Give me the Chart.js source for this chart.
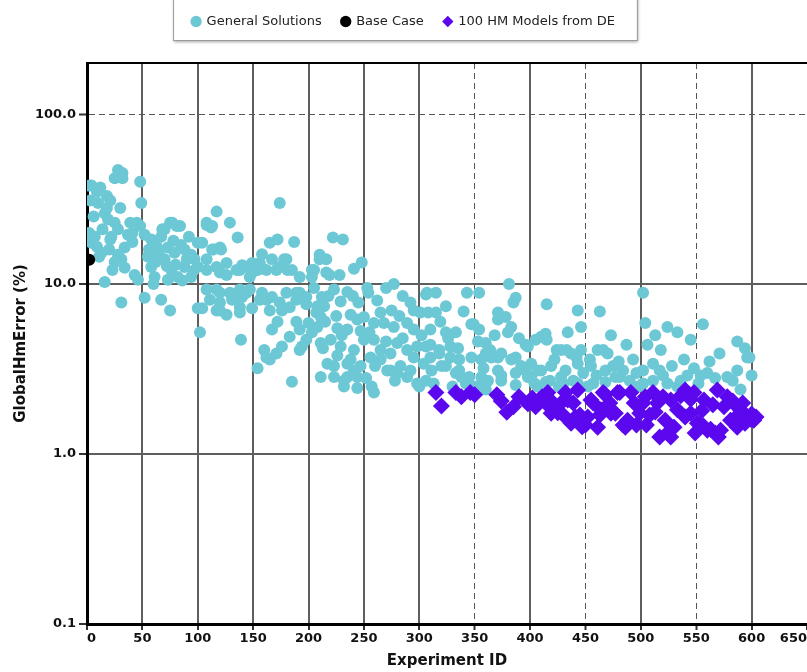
<!DOCTYPE html>
<html>
<head>
<meta charset="utf-8">
<title>GlobalHmError by experiment</title>
<script src="https://cdn.jsdelivr.net/npm/chart.js@4.4.0/dist/chart.umd.min.js"></script>
<style>
  html, body { margin: 0; padding: 0; background: #fff; }
</style>
</head>
<body>
<canvas id="hmErrorChart" width="807" height="672"></canvas>
<script>
// [experiment id, GlobalHmError %]
const generalSolutions = [
  [2, 38], [2, 20], [3, 31], [4, 17.5], [4, 38], [5, 19], [6, 25], [7, 19], [9, 16.6], [9, 35],
  [10, 30], [11, 14.5], [12, 37], [13, 15.3], [14, 21], [16, 10.3], [16, 26], [18, 33], [18, 28], [19, 24],
  [20, 16], [21, 31], [21, 18.3], [22, 19], [23, 12.1], [25, 42], [25, 23], [25, 13.5], [28, 47], [28, 21],
  [28, 14.9], [30, 28], [31, 14], [31, 7.8], [32, 45], [32, 42], [34, 16.4], [34, 12.5], [37, 19.5], [39, 23],
  [41, 20], [41, 17.7], [43, 11.3], [45, 23], [46, 10.6], [48, 40], [48, 22], [49, 30],
  [52, 19.5], [52, 8.3], [55, 14.5], [56, 16], [58, 18.3], [58, 12.6], [60, 10], [61, 11], [62, 13.5], [63, 16.6],
  [65, 15], [67, 19], [67, 8.1], [68, 21], [70, 14], [70, 21], [72, 12.8], [73, 16.4], [73, 10.6], [75, 23],
  [75, 7], [76, 12.1], [77, 23], [78, 18], [79, 15.3], [80, 13], [81, 22], [82, 11], [84, 22], [85, 17],
  [86, 10.5], [88, 16], [88, 12.6], [90, 14], [92, 19], [94, 14.9], [94, 11], [96, 12], [97, 14], [100, 17.5],
  [100, 12.6], [100, 7.2],
  [102, 5.2], [104, 17.5], [104, 7.2], [108, 23], [108, 22.3], [108, 14], [108, 9.3], [108, 12.1], [111, 8.1], [112, 21.5],
  [113, 16], [113, 22], [114, 16], [117, 26.7], [117, 12.6], [117, 9.3], [117, 7], [120, 16.4], [120, 11.7], [120, 8.9],
  [120, 7.8], [120, 7], [121, 16], [126, 13.3], [126, 11.3], [126, 6.6], [129, 23], [129, 8.9], [131, 8.4], [131, 8.1],
  [135, 12.1], [136, 18.8], [138, 12.1], [138, 9.3], [138, 7.3], [138, 6.8], [139, 4.7], [140, 12.9], [140, 8.4], [144, 12.6],
  [144, 8.9], [147, 11], [147, 9.3], [149, 11.7], [149, 13.3], [149, 7.2],
  [154, 12.1], [154, 3.2], [156, 13.3], [156, 8.1], [158, 15], [158, 8.9], [160, 4.1], [162, 12.1], [162, 3.7], [162, 8.1],
  [165, 17.5], [165, 7], [165, 3.6], [167, 14], [167, 8.4], [167, 5.4], [171, 12.1], [171, 3.9], [172, 18.3], [172, 6],
  [174, 30], [174, 12.6], [174, 7.8], [176, 4.3], [176, 7], [178, 14], [180, 14], [180, 8.9], [181, 12.1], [183, 4.9],
  [183, 7.3], [185, 12.1], [185, 2.66], [187, 17.7], [189, 8.1], [189, 8.9], [189, 6], [192, 11], [192, 5.4], [192, 8.9],
  [192, 4.1], [194, 4.3], [198, 8.4], [198, 7.6], [198, 4.7],
  [200, 5.9], [203, 11], [203, 5.2], [203, 12.1], [205, 12.1], [205, 9.5], [207, 6.8], [208, 7.4], [208, 5.6], [210, 14.9],
  [210, 14], [211, 6.4], [211, 4.5], [211, 2.84], [212, 8.4], [213, 4.2], [214, 7.4], [215, 6], [216, 14], [216, 11.7],
  [217, 3.4], [218, 8.5], [219, 11.3], [220, 4.7], [222, 18.8], [223, 9.3], [223, 3.3], [223, 2.84], [225, 6.5], [226, 5.5],
  [226, 3.8], [228, 11.3], [229, 7.9], [229, 4.3], [230, 5], [231, 18.3], [232, 2.5], [232, 2.7], [235, 9], [235, 5.4],
  [235, 3.4], [235, 2.84], [238, 6.6], [238, 3.6], [240, 8.5], [241, 12.3], [241, 4.1], [241, 3.1], [244, 6.2], [244, 2.84],
  [244, 2.45], [245, 7.8], [247, 5.3], [247, 3.3], [248, 13.4],
  [250, 6.4], [250, 4.7], [252, 2.8], [253, 9.5], [254, 8.9], [255, 5.2], [256, 3.7], [257, 2.5], [259, 5.9], [259, 4.7],
  [259, 2.3], [260, 3.3], [262, 8], [265, 4.1], [265, 3.6], [265, 6.8], [268, 5.9], [270, 9.5], [270, 4.6], [271, 3.1],
  [274, 3.9], [274, 3.1], [275, 7], [277, 10], [277, 5.6], [278, 2.7], [280, 4.5], [280, 3], [282, 6.5], [283, 3.3],
  [285, 8.5], [285, 4.8], [289, 5.9], [289, 4.1], [289, 2.84], [292, 7.8], [292, 3.1], [295, 7], [295, 5.4], [295, 3.7],
  [298, 4.3], [298, 2.6],
  [300, 2.5], [301, 6.8], [302, 5], [304, 3.4], [306, 8.7], [306, 4.3], [306, 2.7], [307, 8.9], [308, 6.8], [310, 5.4],
  [310, 3.7], [310, 4.4], [311, 3.1], [313, 2.6], [315, 8.9], [315, 6.8], [318, 4.1], [318, 3.9], [319, 6], [320, 3.3],
  [324, 7.4], [324, 5.2], [324, 3.3], [326, 4.8], [328, 4.3], [328, 3.7], [330, 2.5], [333, 5.2], [333, 3], [335, 4.2],
  [336, 3.1], [336, 3.6], [338, 2.84], [340, 6.9], [342, 2.6], [343, 8.9], [344, 2.7], [345, 2.84], [347, 5.8], [347, 3.7],
  [349, 5.8],
  [351, 2.5], [353, 4.6], [354, 8.9], [354, 5.4], [356, 3.6], [356, 2.84], [358, 3.2], [360, 4.5], [360, 3.9], [360, 2.6],
  [360, 2.4], [362, 2.7], [364, 4.1], [365, 3.7], [368, 5], [371, 6.8], [371, 6.2], [371, 3.7], [371, 3.1], [374, 3.9],
  [374, 2.9], [374, 2.7], [378, 6.4], [380, 5.2], [381, 10], [383, 5.6], [383, 3.6], [385, 7.8], [387, 8.3], [387, 3.7],
  [387, 3], [387, 2.55], [390, 4.8], [392, 3.3], [396, 4.4], [396, 3.1], [398, 4.3], [398, 2.84],
  [401, 3.4], [401, 2.84], [404, 2.6], [405, 4.7], [407, 3.1], [407, 2.5], [410, 4.9], [410, 3.1], [414, 5.1], [414, 2.65],
  [415, 7.6], [415, 4.7], [418, 2.7], [419, 3.3], [422, 3.6], [424, 4.1], [426, 2.5], [428, 4.1], [428, 2.84], [430, 2.6],
  [432, 3.1], [433, 4.1], [434, 5.2], [437, 3.9], [439, 2.7], [442, 3.7], [443, 7], [443, 3.4], [443, 2.6], [446, 5.6],
  [446, 4.1], [448, 3],
  [452, 2.5], [454, 3.6], [455, 3.3], [457, 2.6], [460, 2.9], [461, 4.1], [463, 6.9], [466, 4.1], [468, 3.1], [468, 2.65],
  [470, 3.9], [473, 5], [475, 3.3], [477, 2.84], [480, 3.5], [481, 2.84], [484, 3.1], [487, 4.4], [490, 2.7], [493, 3.6],
  [496, 3], [498, 2.5],
  [502, 8.9], [502, 3.1], [502, 2.6], [504, 5.9], [506, 4.4], [511, 3.4], [511, 2.7], [513, 5], [517, 3.1], [518, 4.1],
  [520, 2.9], [524, 5.6], [524, 2.6], [528, 3.3], [533, 5.2], [533, 2.5], [536, 2.7], [539, 3.6], [542, 2.9], [545, 4.7],
  [548, 3.2],
  [552, 2.6], [554, 2.9], [556, 5.8], [560, 3], [562, 3.5], [567, 2.8], [571, 3.9], [578, 2.84], [583, 2.7], [587, 4.6],
  [587, 3.1], [590, 2.4], [594, 4.2], [596, 3.7], [598, 3.7], [600, 2.9]
];

const baseCase = [[2, 13.9]];

const deModels = [
  [315, 2.3], [320, 1.92], [333, 2.3], [338, 2.17], [346, 2.3], [350, 2.23],
  [370, 2.23], [374, 2.05], [379, 1.76], [385, 1.9], [390, 2.17], [398, 1.98], [402, 2.14], [405, 1.9], [408, 2.08], [411, 2.17],
  [414, 2], [416, 2.3], [419, 1.74], [421, 2], [425, 1.75], [428, 2], [430, 1.7], [432, 2.3], [434, 2.08], [437, 1.52],
  [439, 2], [441, 1.65], [443, 2.38], [445, 1.7], [447, 1.45], [450, 1.48],
  [452, 1.65], [455, 2.08], [457, 2], [461, 1.44], [463, 1.7], [464, 1.82], [466, 2.3], [468, 2.23], [472, 2], [473, 1.74],
  [477, 1.74], [479, 2.3], [481, 2.3], [484, 1.48], [486, 1.44], [488, 1.58], [491, 2.3], [494, 2], [496, 1.48], [499, 1.74],
  [502, 2], [504, 2.17], [505, 1.48], [508, 1.7], [511, 2.3], [513, 1.77], [515, 2], [517, 1.26], [520, 2.17], [522, 1.58],
  [524, 1.33], [527, 2.08], [527, 1.26], [530, 1.44], [533, 1.82], [536, 2.2], [540, 2.38], [540, 1.65], [545, 1.74], [545, 2.1],
  [548, 2.3], [549, 1.33], [551, 1.52], [554, 1.52], [555, 1.8], [557, 2.08], [560, 1.38], [563, 1.4], [565, 1.95], [567, 1.33],
  [569, 2.38], [570, 1.26], [572, 1.38], [575, 1.9], [578, 2.17], [581, 1.58], [583, 2.05], [584, 1.6], [587, 1.9], [587, 1.44],
  [590, 1.82], [592, 2], [594, 1.52], [596, 1.65], [599, 1.6], [600, 1.72], [602, 1.58], [604, 1.65]
];

const xTicks = [0, 50, 100, 150, 200, 250, 300, 350, 400, 450, 500, 550, 600, 650];
const yTicks = [0.1, 1, 10, 100];
const dashedX = [350, 450, 550];
const dashedY = [100];

const FONT = 'DejaVu Sans';
const toPoints = (rows) => rows.map(([x, y]) => ({ x, y }));

function gridStyle(dashed, hidden) {
  return {
    color: (ctx) => {
      if (!ctx.tick || hidden.includes(ctx.tick.value)) return 'rgba(0,0,0,0)';
      return dashed.includes(ctx.tick.value) ? '#555' : '#5e5e5e';
    },
    lineWidth: (ctx) => (ctx.tick && dashed.includes(ctx.tick.value) ? 1 : 2),
    tickColor: '#333',
    tickWidth: 2,
  };
}

function dashFor(dashed) {
  return (ctx) => (ctx.tick && dashed.includes(ctx.tick.value) ? [6, 4] : []);
}

// adds room between the legend and the plot
const legendGap = {
  id: 'legendGap',
  beforeInit(chart) {
    if (!chart.legend) return;
    const fit = chart.legend.fit;
    chart.legend.fit = function () {
      fit.call(this);
      this.height += 25;
    };
  },
};

// white framed box with a drop shadow behind the legend, and the top frame line
const frame = {
  id: 'frame',
  beforeDraw(chart) {
    const boxes = chart.legend && chart.legend.legendHitBoxes;
    if (!boxes || !boxes.length) return;
    const last = boxes[boxes.length - 1];
    const left = boxes[0].left - 19;
    const right = last.left + last.width + 22;
    const { ctx } = chart;
    ctx.save();
    ctx.shadowColor = 'rgba(0, 0, 0, 0.35)';
    ctx.shadowBlur = 3;
    ctx.shadowOffsetX = 1;
    ctx.shadowOffsetY = 2;
    ctx.fillStyle = '#fff';
    ctx.fillRect(left, -4, right - left, 44);
    ctx.shadowColor = 'rgba(0, 0, 0, 0)';
    ctx.strokeStyle = '#9a9a9a';
    ctx.lineWidth = 1;
    ctx.strokeRect(left + 0.5, -4, right - left, 44.5);
    ctx.restore();
  },
  afterDatasetsDraw(chart) {
    const { ctx, chartArea } = chart;
    ctx.save();
    ctx.strokeStyle = '#000';
    ctx.lineWidth = 2;
    ctx.beginPath();
    ctx.moveTo(chartArea.left, chartArea.top);
    ctx.lineTo(chartArea.right, chartArea.top);
    ctx.stroke();
    ctx.restore();
  },
};

const ctx = document.getElementById('hmErrorChart').getContext('2d');

new Chart(ctx, {
  type: 'scatter',
  data: {
    datasets: [
      {
        label: 'General Solutions',
        data: toPoints(generalSolutions),
        backgroundColor: 'rgb(108, 200, 212)',
        borderColor: 'rgb(108, 200, 212)',
        borderWidth: 0,
        pointRadius: 6,
        pointStyle: 'circle',
        clip: 0,
        order: 3,
      },
      {
        label: 'Base Case',
        data: toPoints(baseCase),
        backgroundColor: '#000',
        borderColor: '#000',
        borderWidth: 0,
        pointRadius: 6,
        pointStyle: 'circle',
        clip: 0,
        order: 1,
      },
      {
        label: '100 HM Models from DE',
        data: toPoints(deModels),
        backgroundColor: 'rgb(92, 8, 238)',
        borderColor: 'rgb(92, 8, 238)',
        borderWidth: 0,
        pointRadius: 8.5,
        pointStyle: 'rectRot',
        clip: 0,
        order: 2,
      },
    ],
  },
  options: {
    responsive: false,
    animation: false,
    events: [],
    layout: {
      autoPadding: false,
      padding: { top: -5, left: 0, right: 0, bottom: 0 },
    },
    plugins: {
      legend: {
        position: 'top',
        labels: {
          usePointStyle: true,
          boxWidth: 8,
          boxHeight: 8,
          padding: 20,
          color: '#222',
          font: { family: FONT, size: 13 },
          sort: (a, b) => a.datasetIndex - b.datasetIndex,
        },
      },
      tooltip: { enabled: false },
    },
    scales: {
      x: {
        type: 'linear',
        min: 0,
        max: 650,
        afterBuildTicks: (scale) => {
          scale.ticks = xTicks.map((value) => ({ value }));
        },
        afterFit: (scale) => {
          scale.height = 48;
          scale.paddingLeft = 0;
          scale.paddingRight = 0;
        },
        ticks: {
          align: 'inner',
          autoSkip: false,
          maxRotation: 0,
          padding: 1,
          color: '#111',
          font: { family: FONT, size: 13, weight: 'bold' },
        },
        grid: Object.assign(gridStyle(dashedX, [650]), { tickLength: 6 }),
        border: { color: '#000', width: 3, dash: dashFor(dashedX) },
        title: {
          display: true,
          text: 'Experiment ID',
          color: '#111',
          font: { family: FONT, size: 15, weight: 'bold' },
          padding: { top: 0, bottom: 2 },
        },
      },
      y: {
        type: 'logarithmic',
        min: 0.1,
        max: 200,
        afterBuildTicks: (scale) => {
          scale.ticks = yTicks.map((value) => ({ value }));
        },
        afterFit: (scale) => {
          scale.width = 87;
        },
        ticks: {
          padding: 3,
          color: '#111',
          font: { family: FONT, size: 13, weight: 'bold' },
          callback: (value) => Number(value).toFixed(1),
        },
        grid: Object.assign(gridStyle(dashedY, []), { tickLength: 8 }),
        border: { color: '#000', width: 3, dash: dashFor(dashedY) },
        title: {
          display: true,
          text: 'GlobalHmError (%)',
          color: '#111',
          font: { family: FONT, size: 15, weight: 'bold' },
          padding: { top: 12, bottom: 0 },
        },
      },
    },
  },
  plugins: [legendGap, frame],
});
</script>
</body>
</html>
